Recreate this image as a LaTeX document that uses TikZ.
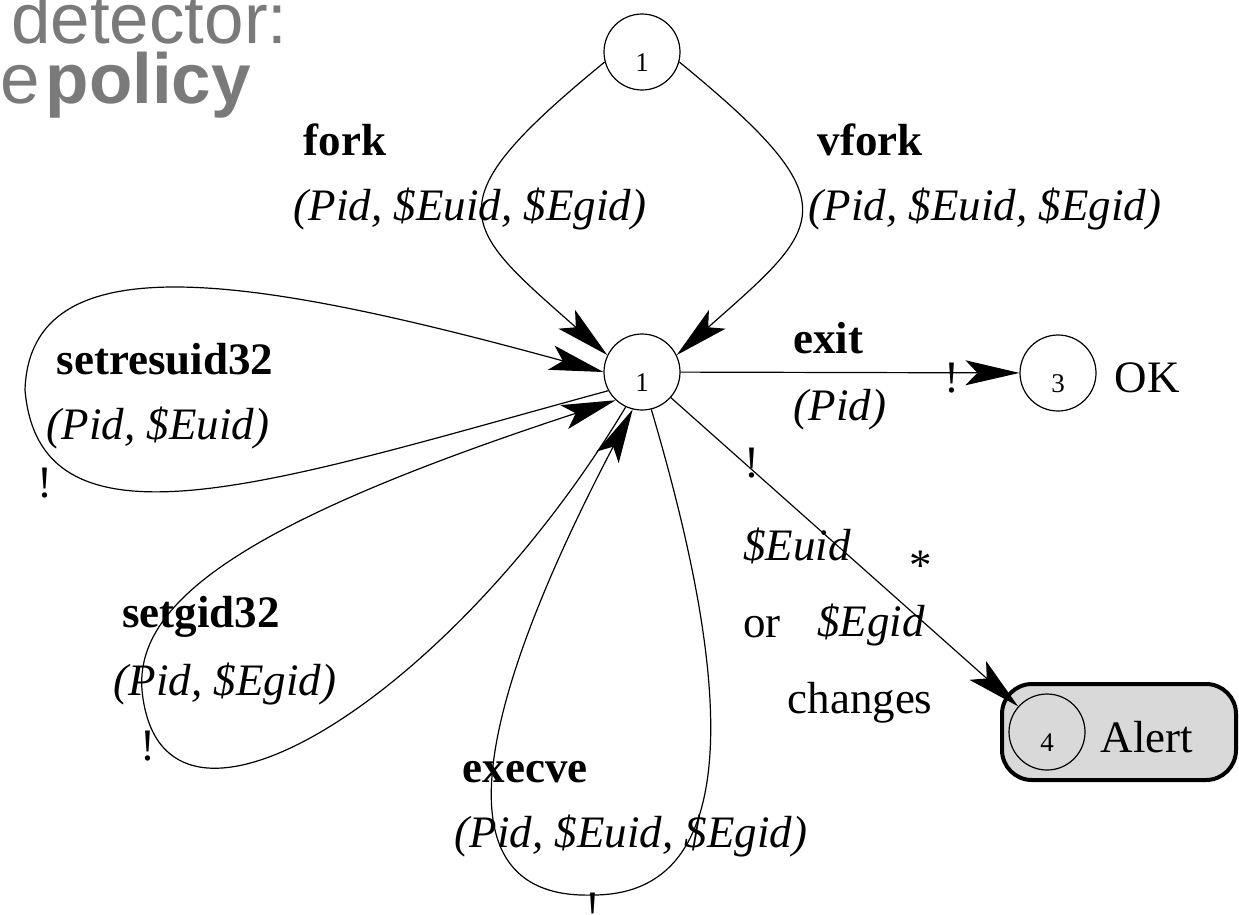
\documentclass[tikz,border=0pt]{standalone}
\usepackage{fontspec}
\setmainfont{Liberation Serif}
\newfontfamily\slidesans{Liberation Sans}
\usetikzlibrary{arrows.meta}
\definecolor{slidegray}{RGB}{122,122,122}
\definecolor{alertfill}{RGB}{217,217,217}
\tikzset{
  stnode/.style={circle, draw, line width=1.2pt, minimum size=76pt, inner sep=0pt,
    font=\fontsize{27}{30}\selectfont, text height=38pt, text depth=0pt},
  lbl/.style={anchor=base, inner sep=0pt, font=\fontsize{45}{54}\selectfont},
  callname/.style={lbl, font=\fontsize{45}{54}\selectfont\bfseries},
  callargs/.style={lbl, font=\fontsize{45}{54}\selectfont\itshape},
  conn/.style={line width=1.2pt},
  arr/.style={conn, -{Stealth[length=54pt,width=25pt,inset=12pt]}},
  alertbox/.style={draw, line width=4pt, fill=alertfill, rounded corners=30pt,
    minimum width=234pt, minimum height=96pt, inner sep=0pt},
  slidetext/.style={anchor=base west, inner sep=0pt, text=slidegray,
    font=\slidesans\fontsize{71}{80}\selectfont}
}
\begin{document}
\begin{tikzpicture}[x=1pt,y=-1pt]
\useasboundingbox (0,0) rectangle (1239,914);
\clip (0,0) rectangle (1239,914);

% slide heading fragments
\node[slidetext] (head1) at (11,43) {detector:};
\node[slidetext] (head2) at (0,103) {e\hspace{6pt}\textbf{policy}};

% states
\node[stnode] (top) at (642,52) {1};
\node[stnode] (mid) at (642,372) {1};
\node[stnode] (ok) at (1058,373) {3};
\node[lbl] (oktxt) at (1147,392) {OK};
\node[alertbox] (abox) at (1119,732) {};
\node[stnode] (al) at (1047,732) {4};
\node[lbl] (altxt) at (1147,752) {Alert};

% fork / vfork
\draw[arr] (top.195) .. controls (430,205) and (460,225) .. (mid.154);
\draw[arr] (top.345) .. controls (854,205) and (824,225) .. (mid.26);
\node[callname] (lfork) at (345,155) {fork};
\node[callargs] (afork) at (470,220) {(Pid, \$Euid, \$Egid)};
\node[callname] (lvfork) at (870,155) {vfork};
\node[callargs] (avfork) at (985,220) {(Pid, \$Euid, \$Egid)};

% setresuid32 self loop
\coordinate (c1) at (25,390);
\draw[arr] (mid.209) .. controls (280,480) and (40,565) .. (c1)
  .. controls (30,240) and (250,275) .. (mid.180);
\node[callname] (lres) at (165,374) {setresuid32};
\node[callargs] (ares) at (158,439) {(Pid, \$Euid)};
\node[lbl] (xres) at (45,497) {!};

% setgid32 self loop
\coordinate (c2) at (142,690);
\draw[arr] (mid.245) .. controls (450,700) and (160,880) .. (c2)
  .. controls (135,600) and (250,520) .. (mid.227);
\node[callname] (lgid) at (201,627) {setgid32};
\node[callargs] (agid) at (225,695) {(Pid, \$Egid)};
\node[lbl] (xgid) at (148,760) {!};

% execve self loop
\coordinate (c3) at (593,895);
\draw[arr] (mid.284) .. controls (700,575) and (780,895) .. (c3)
  .. controls (440,900) and (470,720) .. (mid.256);
\node[callname] (lexe) at (525,782) {execve};
\node[callargs] (aexe) at (631,847) {(Pid, \$Euid, \$Egid)};
\node[lbl] (xexe) at (593,922) {!};

% exit
\draw[arr] (mid) -- (ok);
\node[callname] (lexit) at (828,353) {exit};
\node[callargs] (aexit) at (840,420) {(Pid)};
\node[lbl] (xexit) at (952,392) {!};

% identity change
\draw[arr] (mid) -- (al);
\node[lbl] (xal) at (752,477) {!};
\node[callargs] (euid) at (797,560) {\$Euid};
\node[lbl] (star) at (921,580) {*};
\node[lbl] (orw) at (762,637) {or};
\node[callargs] (egid) at (871,636) {\$Egid};
\node[lbl] (chg) at (860,713) {changes};
\end{tikzpicture}
\end{document}
